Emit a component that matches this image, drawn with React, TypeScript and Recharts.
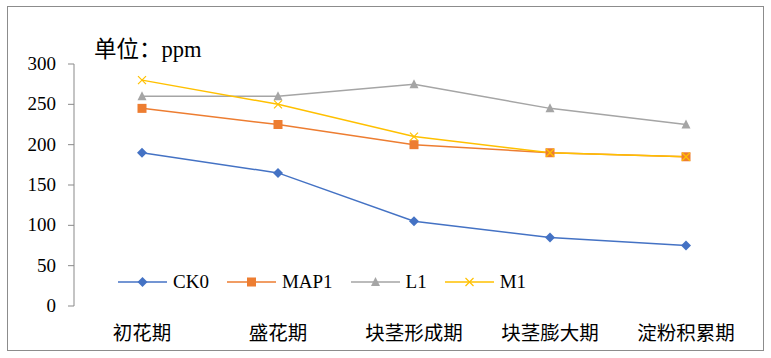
import { Line, LineChart, XAxis, YAxis } from "recharts"

const stages = ["初花期", "盛花期", "块茎形成期", "块茎膨大期", "淀粉积累期"]
const ck0 = [190, 165, 105, 85, 75]
const map1 = [245, 225, 200, 190, 185]
const l1 = [260, 260, 275, 245, 225]
const m1 = [280, 250, 210, 190, 185]
const yTicks = [0, 50, 100, 150, 200, 250, 300]
const edgeTicks = [0, 1, 2, 3, 4, 5]

const data = stages.map((name, i) => ({
  name,
  pos: i + 0.5,
  CK0: ck0[i],
  MAP1: map1[i],
  L1: l1[i],
  M1: m1[i],
}))

const FONT = '"Liberation Serif", "Times New Roman", "Noto Sans CJK SC", serif'
const AXIS = "#898989"

type Shape = "diamond" | "square" | "triangle" | "cross"

const series: { key: string; color: string; shape: Shape }[] = [
  { key: "CK0", color: "#4472C4", shape: "diamond" },
  { key: "MAP1", color: "#ED7D31", shape: "square" },
  { key: "L1", color: "#A5A5A5", shape: "triangle" },
  { key: "M1", color: "#FFC000", shape: "cross" },
]

function marker(shape: Shape, cx: number, cy: number, color: string, key?: string | number) {
  if (shape === "diamond")
    return <path key={key} d={`M${cx},${cy - 5}L${cx + 5},${cy}L${cx},${cy + 5}L${cx - 5},${cy}Z`} fill={color} />
  if (shape === "square")
    return <rect key={key} x={cx - 4.5} y={cy - 4.5} width={9} height={9} fill={color} />
  if (shape === "triangle")
    return <path key={key} d={`M${cx},${cy - 5}L${cx + 4.5},${cy + 4}L${cx - 4.5},${cy + 4}Z`} fill={color} />
  return (
    <path
      key={key}
      d={`M${cx - 4},${cy - 4}L${cx + 4},${cy + 4}M${cx - 4},${cy + 4}L${cx + 4},${cy - 4}`}
      stroke={color}
      strokeWidth={1.2}
      fill="none"
    />
  )
}

function LegendBox() {
  return (
    <div style={{ display: "flex", alignItems: "center", fontFamily: FONT, fontSize: 19, color: "#000" }}>
      {series.map((s) => (
        <div key={s.key} style={{ display: "flex", alignItems: "center", marginRight: 18 }}>
          <svg width={49} height={14} style={{ marginRight: 6 }}>
            <line x1={0} y1={7} x2={49} y2={7} stroke={s.color} strokeWidth={1.5} />
            {marker(s.shape, 24.5, 7, s.color)}
          </svg>
          <span>{s.key}</span>
        </div>
      ))}
    </div>
  )
}

const YTick = (p: any) => (
  <text x={p.x} y={p.y} dy={6} textAnchor="end" fontFamily={FONT} fontSize={19} fill="#000">
    {p.payload.value}
  </text>
)

const CatTick = (p: any) => (
  <text x={p.x} y={p.y} dy={26} textAnchor="middle" fontFamily={FONT} fontSize={19.5} fill="#000">
    {p.payload.value}
  </text>
)

export default function App() {
  return (
    <div
      style={{
        position: "absolute",
        left: 0,
        top: 0,
        width: 771,
        height: 358,
        background: "#fff",
        fontFamily: FONT,
      }}
    >
      <div
        style={{
          position: "absolute",
          left: 7,
          top: 6,
          width: 755,
          height: 343,
          border: "1px solid #8c8c8c",
        }}
      />
      <div style={{ position: "absolute", left: 94, top: 31, fontSize: 22.5, color: "#000" }}>
        单位：ppm
      </div>
      <LineChart
        width={771}
        height={358}
        data={data}
        margin={{ top: 64, right: 17, bottom: 0, left: 14 }}
        style={{ position: "absolute", left: 0, top: 0 }}
      >
        <XAxis
          xAxisId="num"
          type="number"
          dataKey="pos"
          domain={[0, 5]}
          ticks={edgeTicks}
          tick={() => <g />}
          height={0}
          stroke={AXIS}
          tickSize={6}
        />
        <XAxis
          xAxisId="cat"
          dataKey="name"
          scale="band"
          axisLine={false}
          tickLine={false}
          height={52}
          tick={<CatTick />}
        />
        <YAxis
          domain={[0, 300]}
          ticks={yTicks}
          width={60}
          stroke={AXIS}
          tickSize={6}
          tick={<YTick />}
          tickMargin={12}
        />
        {series.map((s) => (
          <Line
            key={s.key}
            xAxisId="num"
            type="linear"
            dataKey={s.key}
            stroke={s.color}
            strokeWidth={1.5}
            isAnimationActive={false}
            dot={(p: any) => marker(s.shape, p.cx, p.cy, s.color, `${s.key}-${p.index}`)}
            activeDot={false}
          />
        ))}
      </LineChart>
      <div style={{ position: "absolute", left: 118, top: 271 }}>
        <LegendBox />
      </div>
    </div>
  )
}
